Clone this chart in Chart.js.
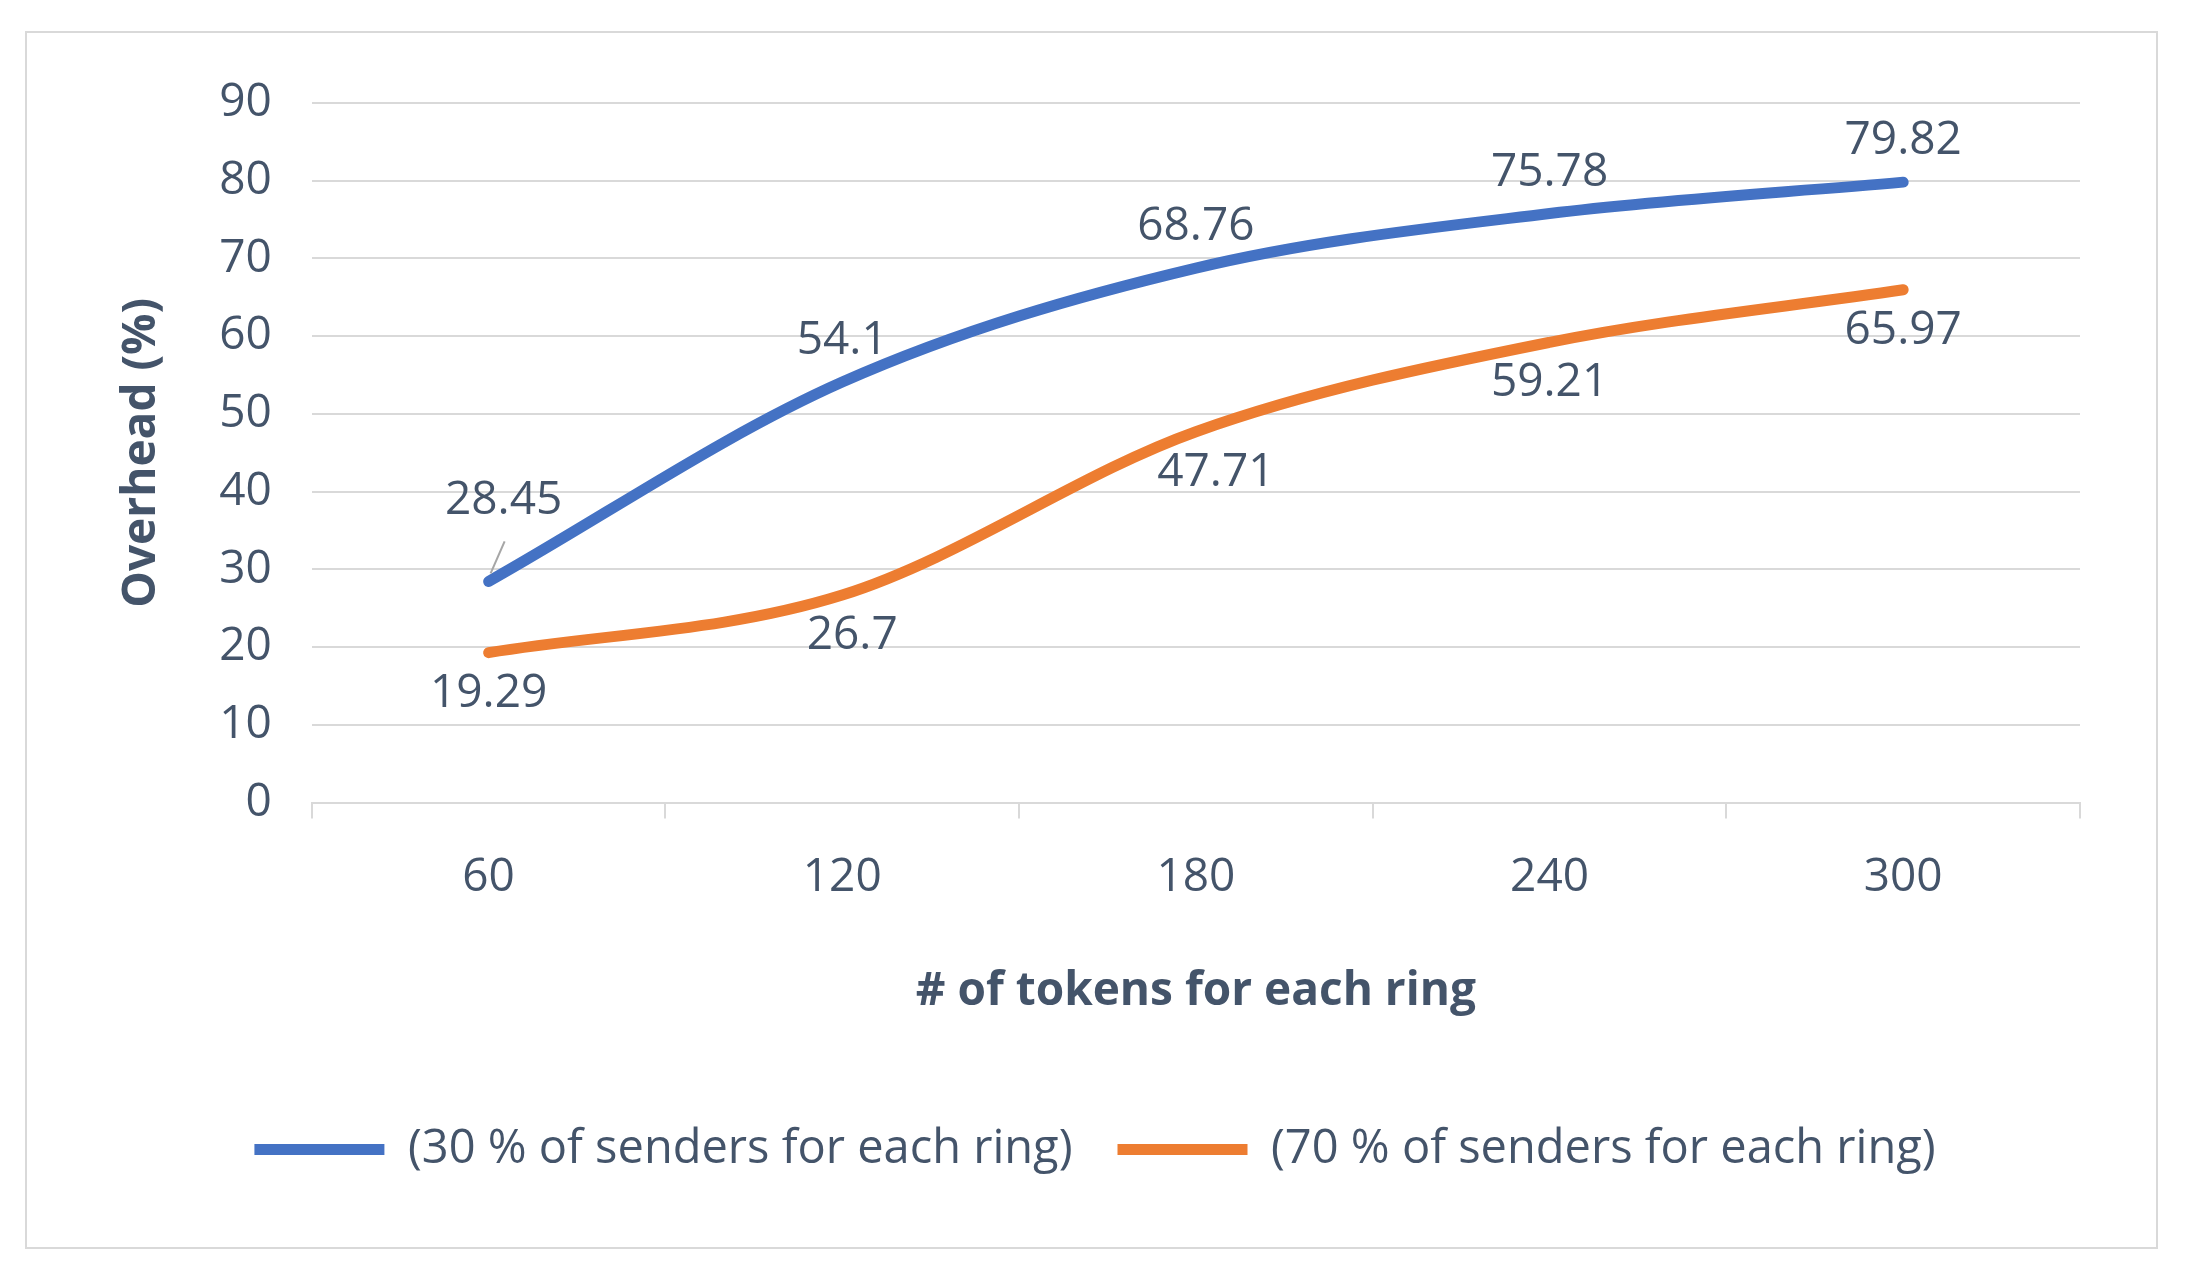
<!DOCTYPE html>
<html>
<head>
<meta charset="utf-8">
<script src="https://cdn.jsdelivr.net/npm/chart.js@4"></script>
<style>
  html, body { margin: 0; padding: 0; background: #fff; }
  #wrap { position: absolute; left: 25px; top: 31px; width: 2133px; height: 1218px; border: 2px solid #d9d9d9; box-sizing: border-box; }
  canvas { display: block; }
</style>
</head>
<body>
<div id="wrap"><canvas id="chart"></canvas></div>
<script>
const categories = ['60', '120', '180', '240', '300'];
const series30 = [28.45, 54.1, 68.76, 75.78, 79.82];
const series70 = [19.29, 26.7, 47.71, 59.21, 65.97];
const seriesNames = ['(30 % of senders for each ring)', '(70 % of senders for each ring)'];
const textColor = '#44546a';
const fontFamily = "'Open Sans', 'Liberation Sans', sans-serif";

const dataLabels = {
    id: 'dataLabels',
    afterDatasetsDraw(chart) {
        const ctx = chart.ctx;
        ctx.save();
        ctx.font = '46px ' + fontFamily;
        ctx.fillStyle = textColor;
        ctx.textAlign = 'center';
        chart.data.datasets.forEach((ds, i) => {
            const meta = chart.getDatasetMeta(i);
            meta.data.forEach((pt, j) => {
                const above = i === 0;
                ctx.textBaseline = above ? 'bottom' : 'top';
                let dx = 0, extra = 0;
                if (i === 0 && j === 0) { dx = 15; extra = 40; }
                if (i === 1 && j === 1) dx = 10;
                if (i === 1 && j === 2) dx = 20;
                ctx.fillText(ds.data[j], pt.x + dx, pt.y + (above ? -18 - extra : 18));
            });
            if (i === 0) {
                const p = meta.data[0];
                ctx.strokeStyle = '#a6a6a6';
                ctx.lineWidth = 2;
                ctx.beginPath();
                ctx.moveTo(p.x + 2, p.y - 8);
                ctx.lineTo(p.x + 16, p.y - 40);
                ctx.stroke();
            }
        });
        ctx.restore();
    }
};

const canvas = document.getElementById('chart');
canvas.width = 2129;
canvas.height = 1214;
canvas.style.width = '2129px';
canvas.style.height = '1214px';

new Chart(canvas.getContext('2d'), {
    type: 'line',
    data: {
        labels: categories,
        datasets: [
            { label: seriesNames[0], data: series30, borderColor: '#4472c4', backgroundColor: '#4472c4', borderWidth: 11, tension: 0.4, cubicInterpolationMode: 'monotone', pointRadius: 0, borderCapStyle: 'round' },
            { label: seriesNames[1], data: series70, borderColor: '#ed7d31', backgroundColor: '#ed7d31', borderWidth: 11, tension: 0.4, cubicInterpolationMode: 'monotone', pointRadius: 0, borderCapStyle: 'round' }
        ]
    },
    options: {
        responsive: false,
        animation: false,
        layout: { padding: { left: 83, right: 76, top: 70, bottom: 64 } },
        plugins: {
            legend: {
                position: 'bottom',
                labels: {
                    color: textColor,
                    font: { size: 47, family: fontFamily },
                    boxWidth: 130, boxHeight: 11, padding: 45,
                    generateLabels(chart) {
                        return chart.data.datasets.map((ds, i) => ({
                            text: ds.label, fillStyle: ds.borderColor, strokeStyle: ds.borderColor,
                            lineWidth: 0, datasetIndex: i, fontColor: textColor
                        }));
                    }
                }
            },
            tooltip: { enabled: false }
        },
        scales: {
            x: {
                offset: true,
                grid: { display: true, offset: true, drawOnChartArea: false, color: '#d9d9d9', lineWidth: 2, tickLength: 16 },
                border: { color: '#d9d9d9', width: 2 },
                ticks: { color: textColor, font: { size: 46, family: fontFamily }, padding: 32 },
                title: { display: true, text: '# of tokens for each ring', color: textColor, font: { size: 46, weight: 'bold', family: fontFamily }, padding: { top: 26, bottom: 62 } }
            },
            y: {
                min: 0, max: 90,
                ticks: { stepSize: 10, color: textColor, font: { size: 46, family: fontFamily }, padding: 40 },
                grid: { color: '#d9d9d9', lineWidth: 2, drawTicks: false },
                border: { display: false },
                title: { display: true, text: 'Overhead (%)', color: textColor, font: { size: 46, weight: 'bold', family: fontFamily }, padding: { bottom: 10 } }
            }
        }
    },
    plugins: [dataLabels]
});
</script>
</body>
</html>
